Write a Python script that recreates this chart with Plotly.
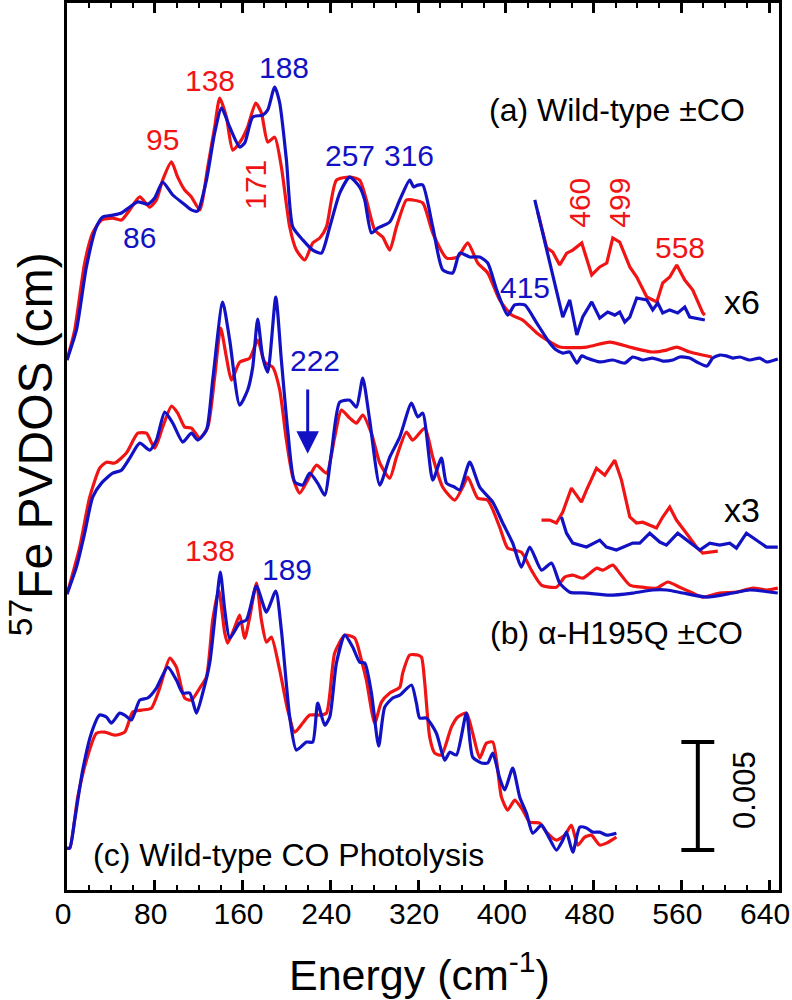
import plotly.graph_objects as go

FONT = "Liberation Sans, Arial, sans-serif"
RED = "#f01414"
BLUE = "#1212c4"

# Energy (cm^-1) and PVDOS (10^-3 cm) relative to each spectrum's own baseline
a_blue_E = [0, 8.6, 17.7, 26.8, 32.5, 41.7, 49.6, 57.2, 64.5, 73.6, 79.9, 87.2, 96.4, 105.5, 113.4, 119.1, 127.1, 134.6, 140.8, 148.3, 157.4, 162.0, 169.3, 178.4, 183.0, 189.3, 193.9, 200.0, 205.8, 214.9, 224.0, 231.9, 239.5, 248.6, 257.7, 266.8, 271.4, 277.5, 283.2, 294.2, 303.3, 312.4, 316.0, 319.7, 324.3, 333.4, 342.5, 351.6, 358.0, 367.1, 376.2, 383.5, 391.7, 401.7, 408.1, 417.2, 428.2, 440.0, 446.1, 451.9, 458.3, 464.7, 469.2, 473.8, 485.6, 497.5, 508.4, 515.7, 524.8, 533.9, 543.0, 552.2, 558.5, 567.6, 574.0, 583.2, 588.6, 595.0, 600.9, 606.9, 613.3, 622.4, 631.5, 637.6, 647.9]
a_blue_v = [0, 1.39, 4.31, 6.16, 6.62, 6.71, 6.81, 7.08, 7.32, 7.22, 7.50, 8.24, 7.64, 7.27, 6.95, 6.90, 8.33, 10.51, 11.67, 10.79, 9.86, 10.05, 11.25, 11.34, 11.58, 12.64, 11.90, 9.26, 6.16, 5.56, 5.09, 4.95, 6.16, 7.73, 8.47, 8.01, 7.41, 5.88, 6.11, 6.39, 7.41, 8.33, 8.01, 8.10, 8.10, 6.16, 4.17, 4.03, 4.95, 4.77, 4.77, 4.49, 3.24, 2.08, 2.55, 2.55, 1.71, 0.79, 0.46, 0.32, 0.37, -0.14, 0.19, 0.09, -0.09, 0, -0.14, 0.14, 0, 0.09, -0.05, 0, 0.14, 0.09, -0.09, -0.28, 0.09, 0.23, 0.19, 0.09, 0.14, 0, 0.09, -0.09, 0.05]

a_red_E = [0, 7.0, 16.1, 23.4, 31.4, 41.7, 49.6, 57.2, 66.3, 75.4, 81.5, 87.2, 95.2, 100.9, 107.3, 113.4, 121.0, 128.3, 134.6, 139.2, 145.3, 151.1, 159.0, 164.7, 172.0, 177.2, 183.0, 189.3, 195.4, 203.0, 209.1, 216.7, 224.0, 230.4, 236.5, 245.6, 257.7, 266.8, 272.9, 280.5, 287.8, 294.2, 300.3, 309.4, 315.1, 324.3, 333.4, 346.1, 356.2, 365.3, 374.4, 383.5, 394.4, 405.4, 415.4, 428.2, 437.3, 449.1, 473.8, 494.7, 515.7, 533.9, 546.7, 555.8, 567.6, 587.7]
a_red_v = [0, 1.39, 4.49, 5.88, 6.48, 6.57, 6.48, 6.95, 7.55, 7.08, 7.41, 8.33, 9.17, 8.47, 7.87, 7.55, 6.95, 8.94, 10.79, 12.13, 11.25, 9.72, 10.19, 10.79, 11.90, 11.44, 10.09, 10.32, 8.94, 6.16, 5.09, 4.63, 5.42, 5.65, 6.16, 8.33, 8.47, 8.33, 7.41, 6.02, 5.69, 5.09, 6.16, 7.41, 7.41, 7.27, 5.88, 4.72, 4.77, 5.42, 4.49, 4.03, 2.78, 2.08, 1.85, 1.25, 0.93, 0.60, 0.60, 0.83, 0.56, 0.37, 0.46, 0.60, 0.37, 0.14]

# x6 magnified high-energy region, spectrum (a)
a_red_x6_E = [429.1, 437.3, 442.8, 449.1, 455.5, 461.0, 469.2, 478.3, 485.6, 492.0, 497.5, 503.8, 513.0, 519.3, 528.5, 537.6, 543.0, 549.4, 555.8, 563.1, 570.4, 579.5, 581.4]
a_red_x6_v = [6.85, 5.19, 5.00, 4.40, 4.95, 5.09, 5.42, 3.94, 4.31, 4.49, 5.65, 5.46, 4.31, 3.84, 2.92, 2.69, 3.57, 3.84, 4.40, 3.70, 3.24, 2.18, 2.08]
a_blue_x6_E = [426.4, 451.9, 458.3, 464.7, 470.1, 478.3, 485.6, 492.9, 499.3, 503.8, 508.4, 513.0, 519.3, 528.5, 533.9, 538.5, 543.0, 549.4, 556.7, 563.1, 567.6, 574.0, 581.4]
a_blue_x6_v = [7.41, 1.99, 2.78, 1.16, 1.99, 2.69, 1.94, 2.22, 2.08, 2.22, 1.76, 1.99, 2.87, 2.78, 2.32, 2.64, 2.18, 2.32, 2.18, 2.45, 1.99, 1.94, 1.85]

b_blue_E = [0, 8.6, 16.1, 23.4, 31.4, 41.7, 49.6, 57.2, 66.3, 75.4, 81.5, 89.1, 96.4, 105.5, 113.4, 119.1, 127.1, 132.8, 141.9, 148.3, 157.4, 164.7, 169.3, 173.8, 178.4, 183.0, 190.3, 195.4, 201.2, 207.6, 214.9, 221.2, 228.5, 234.9, 241.0, 248.6, 257.7, 263.8, 269.6, 275.9, 285.1, 294.2, 303.3, 314.0, 319.7, 324.3, 333.4, 341.3, 345.9, 353.4, 358.0, 367.1, 376.2, 388.1, 397.2, 406.3, 414.2, 421.8, 432.5, 441.6, 449.1, 458.3, 473.8, 494.7, 515.7, 533.9, 546.7, 561.3, 583.2, 606.9, 622.4, 647.9]
b_blue_v = [0, 1.25, 2.82, 4.49, 5.14, 5.60, 5.74, 6.30, 6.99, 6.67, 7.13, 8.43, 7.92, 7.04, 7.45, 7.13, 7.59, 9.91, 13.52, 11.76, 8.75, 9.45, 10.51, 12.73, 10.97, 10.28, 13.75, 10.83, 7.59, 5.19, 5.05, 5.60, 5.14, 4.58, 6.53, 8.89, 8.98, 8.66, 10.00, 8.06, 5.05, 6.34, 7.27, 8.84, 8.20, 8.38, 5.28, 6.30, 5.14, 4.95, 4.82, 6.11, 4.95, 4.26, 3.29, 2.36, 1.25, 2.18, 1.11, 1.44, 0.51, 0.09, 0.05, -0.05, 0.05, 0.19, 0.19, 0.05, -0.14, 0.05, 0.19, 0.05]

b_red_E = [0, 11.6, 20.7, 29.8, 35.9, 43.5, 54.1, 64.5, 72.4, 79.9, 87.2, 95.2, 100.9, 107.3, 113.4, 121.0, 128.3, 134.6, 140.1, 145.3, 149.9, 157.4, 166.6, 173.8, 180.2, 187.5, 193.9, 200.0, 205.8, 212.1, 219.4, 227.4, 236.5, 244.0, 250.1, 257.7, 263.8, 269.6, 277.5, 285.1, 294.2, 300.3, 309.4, 315.1, 326.1, 333.4, 342.5, 353.4, 360.7, 365.3, 374.4, 383.5, 394.4, 401.7, 414.2, 423.3, 432.5, 446.1, 453.7, 461.0, 470.1, 482.9, 488.4, 497.5, 503.8, 513.0, 524.8, 537.6, 547.6, 558.5, 570.4, 579.5, 595.0, 610.5, 625.1, 637.9, 647.9]
b_red_v = [0, 2.18, 4.49, 5.83, 6.11, 6.07, 6.53, 7.45, 7.45, 6.76, 7.73, 8.70, 8.38, 7.73, 7.69, 7.22, 7.73, 10.05, 12.32, 10.97, 9.91, 10.74, 10.93, 11.76, 10.74, 10.51, 9.45, 7.13, 5.42, 4.68, 5.28, 5.97, 5.60, 7.27, 8.52, 8.15, 7.92, 8.29, 7.45, 6.07, 5.37, 6.34, 7.50, 7.13, 7.69, 6.34, 4.95, 4.35, 4.95, 5.42, 4.44, 4.35, 3.10, 2.13, 1.94, 1.11, 0.42, 0.32, 0.79, 0.88, 0.74, 1.20, 1.11, 1.34, 0.97, 0.42, 0.32, 0.28, 0.56, 0.32, 0.05, -0.14, 0.05, 0.09, 0.28, 0.19, 0.28]

# x3 magnified high-energy region, spectrum (b)
b_red_x3_E = [432.5, 440.0, 446.1, 451.9, 459.8, 468.9, 473.5, 482.6, 490.2, 499.3, 505.4, 513.0, 519.1, 524.8, 537.3, 543.0, 549.4, 555.5, 564.6, 573.8, 579.5, 587.4, 593.2]
b_red_x3_v = [3.43, 3.43, 3.29, 3.80, 4.91, 4.26, 4.82, 5.83, 5.51, 6.20, 5.28, 3.57, 3.29, 3.33, 3.06, 3.57, 4.03, 3.43, 2.82, 2.18, 1.90, 1.94, 1.99]
b_blue_x3_E = [450.7, 455.3, 461.0, 473.5, 485.6, 491.7, 500.8, 506.6, 515.7, 522.1, 531.2, 540.3, 546.4, 556.7, 564.6, 576.8, 585.9, 595.0, 604.1, 610.2, 619.3, 628.5, 637.6, 647.9]
b_blue_x3_v = [3.57, 2.82, 2.36, 2.18, 2.50, 2.18, 2.04, 2.18, 2.36, 2.36, 2.82, 2.41, 2.27, 2.82, 2.50, 2.04, 2.36, 2.27, 2.36, 2.13, 2.82, 2.50, 2.18, 2.18]

c_blue_E = [0, 2.5, 7.0, 14.3, 22.2, 29.8, 35.9, 40.5, 48.0, 52.6, 58.7, 66.3, 73.6, 81.5, 91.8, 99.7, 105.5, 111.9, 118.0, 123.7, 130.1, 136.2, 139.8, 143.8, 148.3, 157.4, 163.5, 172.7, 181.8, 190.3, 195.4, 203.0, 209.1, 218.2, 224.0, 228.5, 234.9, 239.5, 245.6, 253.2, 260.4, 266.8, 271.4, 277.5, 284.1, 289.6, 296.9, 303.3, 314.0, 318.5, 321.5, 327.6, 336.7, 344.3, 348.9, 355.0, 364.1, 369.8, 377.8, 383.5, 388.1, 394.4, 399.0, 406.3, 412.7, 418.8, 424.5, 432.5, 438.2, 446.1, 451.9, 455.3, 461.0, 467.4, 473.5, 479.2, 485.6, 491.7, 500.8]
c_blue_v = [0, 0, 1.30, 3.61, 5.32, 6.16, 6.07, 5.79, 6.25, 6.16, 5.93, 6.85, 6.95, 7.41, 8.38, 7.78, 7.18, 7.18, 6.25, 7.18, 8.57, 11.34, 12.78, 11.02, 9.72, 10.42, 10.56, 12.13, 10.93, 11.90, 10.09, 6.07, 4.54, 4.91, 4.91, 6.71, 5.69, 6.07, 8.57, 9.86, 9.31, 8.61, 8.57, 7.18, 4.72, 6.53, 6.95, 7.08, 7.55, 6.71, 6.02, 6.02, 5.32, 4.07, 4.44, 4.31, 6.25, 4.21, 3.94, 3.94, 4.40, 3.24, 2.69, 3.70, 2.36, 1.62, 0.69, 1.06, 0.60, -0.09, 0.37, 0.74, -0.19, 0.97, 0.93, 0.74, 0.74, 0.60, 0.69]

c_red_E = [0, 2.5, 9.8, 17.7, 26.8, 34.4, 43.5, 52.6, 59.9, 67.8, 76.9, 84.5, 93.7, 99.7, 107.3, 113.4, 121.0, 127.1, 132.8, 138.3, 143.8, 146.5, 152.9, 157.4, 162.0, 166.6, 172.7, 177.2, 181.8, 186.3, 193.9, 201.2, 207.6, 214.9, 221.2, 230.4, 236.5, 244.0, 253.2, 262.3, 268.4, 272.9, 280.5, 286.6, 294.2, 303.3, 306.0, 312.4, 319.7, 323.1, 326.1, 330.6, 335.2, 341.3, 350.4, 356.2, 364.1, 369.8, 376.2, 382.3, 388.1, 396.0, 401.7, 408.1, 415.4, 421.8, 430.9, 437.0, 446.1, 453.7, 459.8, 465.6, 471.9, 478.0, 485.6, 491.7, 500.8]
c_red_v = [0, 0, 2.36, 4.07, 5.32, 5.37, 5.23, 5.37, 6.30, 6.39, 6.48, 7.41, 8.80, 8.38, 6.95, 6.85, 7.41, 7.92, 10.56, 11.95, 9.95, 9.49, 10.23, 10.79, 9.72, 10.70, 12.27, 10.56, 9.54, 9.77, 8.24, 6.39, 5.37, 5.79, 6.16, 6.16, 6.25, 9.03, 9.86, 9.72, 8.70, 7.78, 5.79, 6.76, 7.18, 7.45, 8.10, 8.94, 8.94, 8.84, 7.64, 5.14, 4.40, 4.31, 5.60, 6.07, 6.25, 5.32, 4.17, 4.86, 4.91, 2.36, 1.76, 2.22, 1.76, 1.20, 1.16, 0.74, 0.37, 0.60, 1.06, 0.14, 0.51, 0.60, 0.14, 0.23, 0.51]

# vertical offsets of the stacked spectra (10^-3 cm)
OFFSET_A = 24.54
OFFSET_B = 13.70
OFFSET_C = 1.94
Y_MAX = 41.07
X_MAX = 649
SCALE_BAR = 5.0  # 0.005 cm

# (energy array, value array, offset, color, smooth)
series = [
    (a_red_E, a_red_v, OFFSET_A, RED, True),
    (a_blue_E, a_blue_v, OFFSET_A, BLUE, True),
    (a_red_x6_E, a_red_x6_v, OFFSET_A, RED, False),
    (a_blue_x6_E, a_blue_x6_v, OFFSET_A, BLUE, False),
    (b_red_E, b_red_v, OFFSET_B, RED, True),
    (b_blue_E, b_blue_v, OFFSET_B, BLUE, True),
    (b_red_x3_E, b_red_x3_v, OFFSET_B, RED, False),
    (b_blue_x3_E, b_blue_x3_v, OFFSET_B, BLUE, False),
    (c_red_E, c_red_v, OFFSET_C, RED, True),
    (c_blue_E, c_blue_v, OFFSET_C, BLUE, True),
]

fig = go.Figure()
for E, v, off, col, smooth in series:
    fig.add_trace(go.Scatter(
        x=E, y=[off + val for val in v], mode="lines",
        line=dict(color=col, width=3.2, shape="spline" if smooth else "linear",
                  smoothing=0.6 if smooth else None),
        hoverinfo="skip", showlegend=False))

# peak labels: (text, energy, y, color, angle)
labels = [
    ("95", 87.3, 34.77, RED, 0),
    ("138", 130.1, 37.50, RED, 0),
    ("188", 197.5, 38.10, BLUE, 0),
    ("86", 66.3, 30.23, BLUE, 0),
    ("171", 171.1, 32.64, RED, -90),
    ("257", 257.7, 34.03, BLUE, 0),
    ("316", 311.5, 34.03, BLUE, 0),
    ("415", 417.2, 27.92, BLUE, 0),
    ("460", 467.4, 31.81, RED, -90),
    ("499", 503.8, 31.81, RED, -90),
    ("558", 558.5, 29.77, RED, 0),
    ("222", 225.8, 24.54, BLUE, 0),
    ("138", 130.1, 15.74, RED, 0),
    ("189", 200.3, 14.82, BLUE, 0),
]
for t, x, y, c, ang in labels:
    fig.add_annotation(x=x, y=y, text=t, showarrow=False, textangle=ang,
                       xanchor="center", yanchor="middle",
                       font=dict(family=FONT, size=30, color=c))

black_text = [
    ("(a) Wild-type ±CO", 501.1, 36.11, "center", 32),
    ("(b) α-H195Q ±CO", 501.1, 11.90, "center", 32),
    ("x6", 615.3, 27.22, "center", 34),
    ("x3", 615.3, 17.59, "center", 34),
    ("(c) Wild-type CO Photolysis", 22.2, 1.62, "left", 32),
]
for t, x, y, anc, sz in black_text:
    fig.add_annotation(x=x, y=y, text=t, showarrow=False, xanchor=anc, yanchor="middle",
                       font=dict(family=FONT, size=sz, color="black"))

# arrow marking 222
fig.add_annotation(x=219.4, y=20.2, ax=219.4, ay=23.24, axref="x", ayref="y",
                   xref="x", yref="y", text="", showarrow=True,
                   arrowhead=2, arrowsize=1.5, arrowwidth=3, arrowcolor=BLUE)

# scale bar 0.005
sb_x, sb_y0 = 575.0, 1.85
sb_half = 15.0
fig.add_shape(type="line", x0=sb_x, x1=sb_x, y0=sb_y0, y1=sb_y0 + SCALE_BAR,
              line=dict(color="black", width=4))
for yy in (sb_y0, sb_y0 + SCALE_BAR):
    fig.add_shape(type="line", x0=sb_x - sb_half, x1=sb_x + sb_half, y0=yy, y1=yy,
                  line=dict(color="black", width=4))
fig.add_annotation(x=617.0, y=4.63, text="0.005", showarrow=False, textangle=-90,
                   xanchor="center", yanchor="middle",
                   font=dict(family=FONT, size=31, color="black"))

# axis titles
fig.add_annotation(xref="paper", yref="paper", x=0.495, y=-0.093,
                   xanchor="center", yanchor="middle",
                   text="Energy (cm<sup>-1</sup>)", showarrow=False,
                   font=dict(family=FONT, size=43, color="black"))
fig.add_annotation(xref="paper", yref="paper", x=-0.050, y=0.503,
                   xanchor="center", yanchor="middle",
                   text="<sup>57</sup>Fe PVDOS (cm)", showarrow=False, textangle=-90,
                   font=dict(family=FONT, size=48, color="black"))

fig.update_xaxes(range=[0, X_MAX], tick0=0, dtick=80, ticks="inside", ticklen=10,
                 tickwidth=2.5, tickcolor="black", showline=True, linewidth=3,
                 linecolor="black", mirror="allticks", showgrid=False, zeroline=False,
                 automargin=False, ticklabeloverflow="allow", ticklabelshift=-4,
                 ticklabelstandoff=-5,
                 tickfont=dict(family=FONT, size=30, color="black"),
                 minor=dict(dtick=20, tick0=0, ticks="inside", ticklen=5, tickwidth=2,
                            tickcolor="black", showgrid=False))
fig.update_yaxes(range=[0, Y_MAX], showline=True, linewidth=3, linecolor="black",
                 mirror=True, ticks="", showticklabels=False, showgrid=False,
                 zeroline=False, automargin=False)

fig.update_layout(width=792, height=1000, margin=dict(l=67, r=13, t=3, b=110),
                  plot_bgcolor="white", paper_bgcolor="white", showlegend=False,
                  hovermode=False)

fig.write_html("out.html", config={"displayModeBar": False},
               post_script="document.body.style.margin='0px';document.body.style.padding='0px';")
